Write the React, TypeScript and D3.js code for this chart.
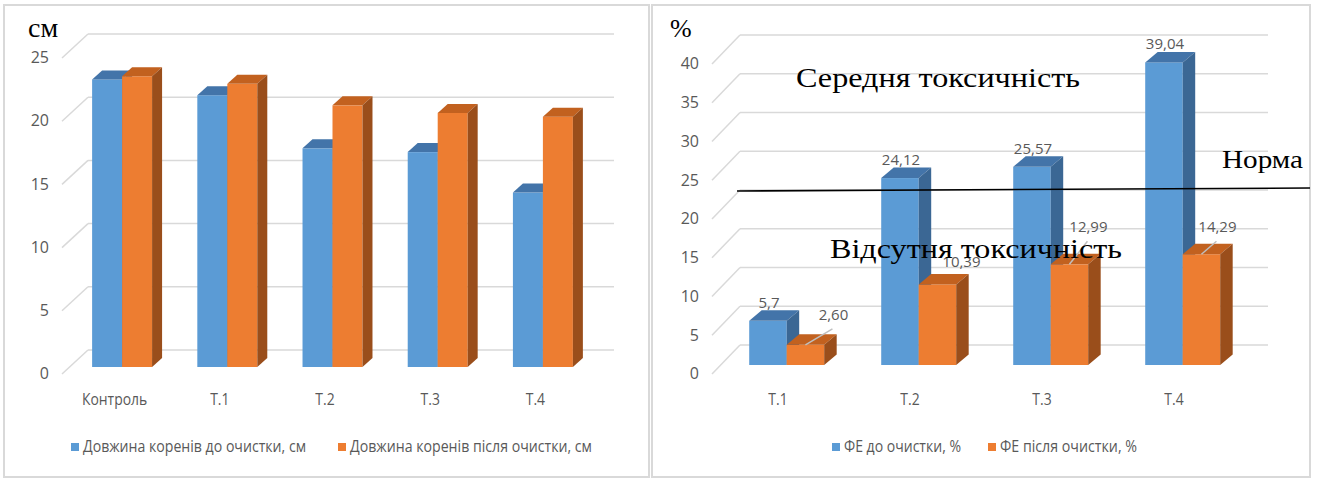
import React from 'react';
import * as d3 from 'd3';

// ---------- data ----------
const leftCategories = ['Контроль', 'Т.1', 'Т.2', 'Т.3', 'Т.4'];
const leftBefore = [22.75, 21.5, 17.3, 17.0, 13.8];
const leftAfter = [23.0, 22.4, 20.7, 20.1, 19.8];
const leftTicks = [0, 5, 10, 15, 20, 25];
const leftSeries = ['Довжина коренів до очистки, см', 'Довжина коренів після очистки, см'];
const leftUnit = 'см';

const rightCategories = ['Т.1', 'Т.2', 'Т.3', 'Т.4'];
const rightBefore = [5.7, 24.12, 25.57, 39.04];
const rightAfter = [2.6, 10.39, 12.99, 14.29];
const rightBeforeLabels = ['5,7', '24,12', '25,57', '39,04'];
const rightAfterLabels = ['2,60', '10,39', '12,99', '14,29'];
const rightTicks = [0, 5, 10, 15, 20, 25, 30, 35, 40];
const rightSeries = ['ФЕ до очистки, %', 'ФЕ після очистки, %'];
const rightUnit = '%';
const normValue = 20;
const zoneLabels = ['Середня токсичність', 'Норма', 'Відсутня токсичність'];

// ---------- styles ----------
const BLUE = { front: '#5b9bd5', top: '#4374a9', side: '#3b6794' };
const ORANGE = { front: '#ed7d31', top: '#c2611f', side: '#9a4e1b' };
const GRID = '#d9d9d9';
const TXT = '#595959';
const SANS = "'Open Sans', 'Noto Sans', sans-serif";
const SERIF = "'Liberation Serif', 'DejaVu Serif', serif";

type Layout = {
  x0: number; x1: number; y0: number; yT: number;
  depth: [number, number]; barOff: [number, number]; barDepth: [number, number];
  barFrac: number;
};

function faces(xl: number, w: number, yTop: number, yBot: number, dd: [number, number]) {
  const [dx, dy] = dd;
  const top = `${xl},${yTop} ${xl + w},${yTop} ${xl + w + dx},${yTop + dy} ${xl + dx},${yTop + dy}`;
  const side = `${xl + w},${yTop} ${xl + w + dx},${yTop + dy} ${xl + w + dx},${yBot + dy} ${xl + w},${yBot}`;
  return { top, side };
}

function Bar({ xl, w, yTop, yBot, dd, col }: any) {
  const f = faces(xl, w, yTop, yBot, dd);
  return (
    <g>
      <rect x={xl} y={yTop} width={w} height={Math.max(0, yBot - yTop)} fill={col.front} />
      <polygon points={f.top} fill={col.top} />
      <polygon points={f.side} fill={col.side} />
    </g>
  );
}

function Grid({ ticks, y, L }: any) {
  const [dx, dy] = L.depth;
  return (
    <g>
      {ticks.map((t: number) => (
        <g key={t}>
          <line x1={L.x0} y1={y(t)} x2={L.x0 + dx} y2={y(t) + dy} stroke={GRID} strokeWidth={1.5} />
          <line x1={L.x0 + dx} y1={y(t) + dy} x2={L.x1 + dx} y2={y(t) + dy} stroke={GRID} strokeWidth={1.5} />
          <text x={L.x0 - 13} y={y(t) + 1} textAnchor="end" dominantBaseline="middle"
            fontFamily={SANS} fontSize={16} fill={TXT}>{t}</text>
        </g>
      ))}
    </g>
  );
}

function CText({ x, y, children, sx = 0.82, anchor = 'middle', size = 17, fill = TXT }: any) {
  return (
    <text transform={`translate(${x},${y}) scale(${sx},1)`} textAnchor={anchor}
      fontFamily={SANS} fontSize={size} fill={fill}>{children}</text>
  );
}

function Legend({ items, xs, widths, y }: any) {
  const cols = [BLUE.front, ORANGE.front];
  return (
    <g>
      {items.map((s: string, i: number) => (
        <g key={s}>
          <rect x={xs[i]} y={y - 9} width={8} height={8} fill={cols[i]} />
          <text x={xs[i] + 12} y={y} fontFamily={SANS} fontSize={17} fill={TXT}
            textLength={widths[i]} lengthAdjust="spacingAndGlyphs">{s}</text>
        </g>
      ))}
    </g>
  );
}

function Bars({ cats, s1, s2, x, y, L }: any) {
  const bw = x.bandwidth() * L.barFrac;
  return (
    <g>
      {cats.map((c: string, i: number) => {
        const cx = (x(c) as number) + x.bandwidth() / 2 + L.barOff[0];
        const yb = y(0) + L.barOff[1];
        return (
          <g key={c}>
            <Bar xl={cx - bw} w={bw} yTop={y(s1[i]) + L.barOff[1]} yBot={yb} dd={L.barDepth} col={BLUE} />
            <Bar xl={cx} w={bw} yTop={y(s2[i]) + L.barOff[1]} yBot={yb} dd={L.barDepth} col={ORANGE} />
          </g>
        );
      })}
    </g>
  );
}

function LeftChart() {
  const L: Layout = { x0: 62, x1: 588, y0: 374, yT: 58, depth: [26, -24], barOff: [7.5, -7], barDepth: [10, -9], barFrac: 0.285 };
  const x = d3.scaleBand<string>().domain(leftCategories).range([L.x0, L.x1]);
  const y = d3.scaleLinear().domain([0, 25]).range([L.y0, L.yT]);
  return (
    <g>
      <rect x={4} y={5} width={645} height={472} fill="#fff" stroke={GRID} strokeWidth={2} />
      <Grid ticks={leftTicks} y={y} L={L} />
      <Bars cats={leftCategories} s1={leftBefore} s2={leftAfter} x={x} y={y} L={L} />
      {leftCategories.map((c) => (
        <CText key={c} x={(x(c) as number) + x.bandwidth() / 2} y={405}>{c}</CText>
      ))}
      <text x={28} y={37} fontFamily={SERIF} fontSize={28} fill="#000">{leftUnit}</text>
      <Legend items={leftSeries} xs={[71, 338]} widths={[223, 242]} y={452} />
    </g>
  );
}

function RightChart() {
  const L: Layout = { x0: 712, x1: 1240, y0: 374, yT: 64, depth: [28, -29], barOff: [8.7, -9], barDepth: [12.5, -10.5], barFrac: 0.284 };
  const x = d3.scaleBand<string>().domain(rightCategories).range([L.x0, L.x1]);
  const y = d3.scaleLinear().domain([0, 40]).range([L.y0, L.yT]);
  const bw = x.bandwidth() * L.barFrac;
  // layout nudges for the orange value labels (dx, dy from bar top centre, leader shown)
  const afterNudge: [number, number, boolean][] = [[28, -30, true], [24, -22, false], [19, -37, true], [16, -27, true]];
  const normY = y(normValue) + L.depth[1];
  return (
    <g>
      <rect x={652} y={5} width={658} height={472} fill="#fff" stroke={GRID} strokeWidth={2} />
      <Grid ticks={rightTicks} y={y} L={L} />
      <Bars cats={rightCategories} s1={rightBefore} s2={rightAfter} x={x} y={y} L={L} />
      {rightCategories.map((c, i) => {
        const cx = (x(c) as number) + x.bandwidth() / 2 + L.barOff[0];
        const bTop = y(rightBefore[i]) + L.barOff[1];
        const oTop = y(rightAfter[i]) + L.barOff[1];
        const ocx = cx + bw / 2;
        const [ndx, ndy, leader] = afterNudge[i];
        const lx = ocx + ndx, ly = oTop + ndy;
        return (
          <g key={c}>
            <text x={cx - bw / 2 + 1} y={bTop - 13} textAnchor="middle" fontFamily={SANS} fontSize={15} fill={TXT}>{rightBeforeLabels[i]}</text>
            {leader && <line x1={ocx} y1={oTop} x2={lx - 1} y2={ly + 14} stroke="#bfbfbf" strokeWidth={1.5} />}
            <text x={lx} y={ly + 5} textAnchor="middle" fontFamily={SANS} fontSize={15} fill={TXT}>{rightAfterLabels[i]}</text>
            <CText x={(x(c) as number) + x.bandwidth() / 2} y={405}>{c}</CText>
          </g>
        );
      })}
      <line x1={L.x0 + L.depth[0] - 3} y1={normY + 1} x2={1310} y2={normY - 2} stroke="#000" strokeWidth={1.6} />
      <text x={670} y={37} fontFamily={SERIF} fontSize={26} fill="#000">{rightUnit}</text>
      <text x={796} y={87} fontFamily={SERIF} fontSize={27} fill="#000" textLength={284} lengthAdjust="spacingAndGlyphs">{zoneLabels[0]}</text>
      <text x={1222} y={168} fontFamily={SERIF} fontSize={26} fill="#000" textLength={81} lengthAdjust="spacingAndGlyphs">{zoneLabels[1]}</text>
      <text x={830} y={258} fontFamily={SERIF} fontSize={27} fill="#000" textLength={292} lengthAdjust="spacingAndGlyphs">{zoneLabels[2]}</text>
      <Legend items={rightSeries} xs={[832, 988]} widths={[117, 137]} y={452} />
    </g>
  );
}

export default function App() {
  return (
    <svg width={1317} height={479} style={{ position: 'absolute', left: 0, top: 0, background: '#fff' }}>
      <rect width={1317} height={479} fill="#fff" />
      <LeftChart />
      <RightChart />
    </svg>
  );
}
